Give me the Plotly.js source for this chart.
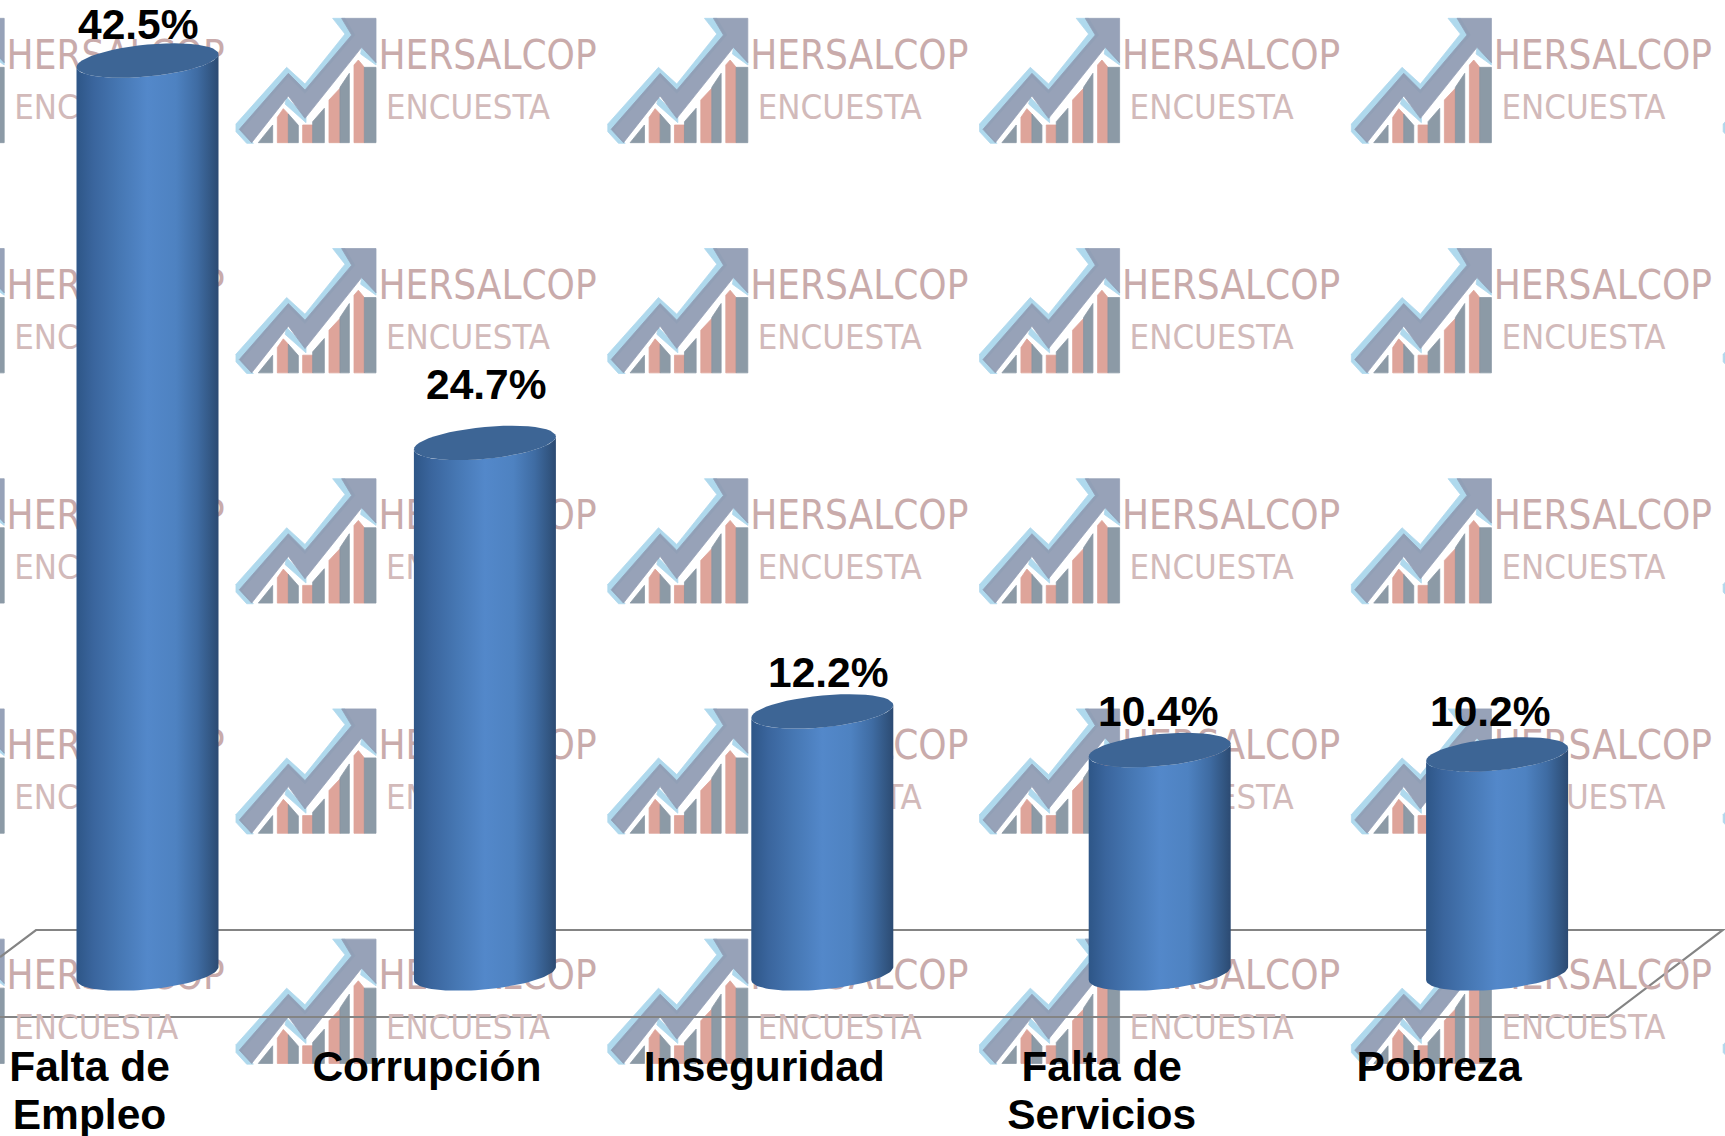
<!DOCTYPE html>
<html lang="es">
<head>
<meta charset="utf-8">
<script src="https://cdn.plot.ly/plotly-3.0.1.min.js"></script>
<style>html,body{margin:0;padding:0;background:#fff;overflow:hidden}#chart{width:1725px;height:1136px}</style>
</head>
<body>
<div id="chart"></div>
<script>
// ---- chart data ----
const categories = ["Falta de<br>Empleo", "Corrupción", "Inseguridad", "Falta de<br>Servicios", "Pobreza"];
const values = [42.5, 24.7, 12.2, 10.4, 10.2];
const valueLabels = ["42.5%", "24.7%", "12.2%", "10.4%", "10.2%"];
const labelShiftX = [-9, 2, 6, -1, -7];
const labelShiftY = [36, 58, 39, 39, 43];
const watermarkTitle = "HERSALCOP";
const watermarkSub = "ENCUESTA";

// ---- geometry ----
const W = 1725, H = 1136, floorFront = 1017;
const x0px = 147.5, pxPerCat = 337.4, y0px = 973.5, pxPerUnit = 21.48;
const dataX = px => (px - x0px) / pxPerCat;
const dataY = py => (y0px - py) / pxPerUnit;
const paperX = px => (px / W).toFixed(5);
const paperY = py => ((H - py) / H).toFixed(5);
const R = 71, B = 16, TILT = 6.5, STEPS = 48;

function arc(cat, val, from, to) {
  const xs = [], ys = [];
  for (let i = 0; i <= STEPS; i++) {
    const t = from + (to - from) * i / STEPS;
    xs.push(cat + R * Math.cos(t) / pxPerCat);
    ys.push(val - (B * Math.sin(t) - TILT * Math.cos(t)) / pxPerUnit);
  }
  return [xs, ys];
}

// ---- watermark tiles ----
const tileStepX = 371.8, tileStepY = 230.2, tileX = 236, tileY = 17;
const z = ([x, y]) => [x / 3 - 6, y / 3 - 7];
const logoPolys = {
  "#a9d6ec": [
    [[18,342],[170,172],[225,222],[345,72],[308,25],[345,25],[375,75],[225,250],[175,200],[35,360]],
    [[395,112],[438,155],[438,165],[392,132]],
    [[170,262],[228,322],[228,338],[165,282]],
    [[18,342],[70,400],[50,400],[18,365]]
  ],
  "#8f9bb2": [
    [[335,25],[438,25],[438,158],[395,112],[225,325],[175,258],[65,398],[28,358],[175,190],[225,240],[365,75]]
  ],
  "#dc9d92": [
    [[142,398],[142,322],[160,296],[175,312],[175,398]],
    [[218,398],[218,345],[248,345],[248,398]],
    [[297,398],[297,270],[330,235],[330,398]],
    [[372,398],[372,165],[385,150],[403,172],[403,398]]
  ],
  "#83929f": [
    [[85,398],[128,345],[128,398]],
    [[175,398],[175,312],[205,346],[205,398]],
    [[248,398],[248,335],[283,295],[283,398]],
    [[330,398],[330,232],[358,190],[358,398]],
    [[403,398],[403,172],[438,172],[438,398]]
  ]
};
const tileCols = [-1, 0, 1, 2, 3, 4], tileRows = [0, 1, 2, 3, 4], textCols = [-1, 0, 1, 2, 3];
const shapes = [];
for (const color in logoPolys) {
  let path = "";
  for (const c of tileCols) for (const r of tileRows) {
    const ox = tileX + c * tileStepX, oy = tileY + r * tileStepY;
    for (const poly of logoPolys[color]) {
      path += poly.map((p, i) => {
        const [rx, ry] = z(p);
        return (i ? "L" : "M") + paperX(ox + rx) + "," + paperY(oy + ry);
      }).join("") + "Z";
    }
  }
  shapes.push({type: "path", xref: "paper", yref: "paper", layer: "below", path,
               fillcolor: color, opacity: 0.92, line: {width: 0.8, color}});
}
// floor of the 3-D chart
const floorPts = [[0,957],[36,930],[1723,930],[1608,floorFront],[0,floorFront]];
shapes.push({type: "path", xref: "paper", yref: "paper", layer: "below",
  path: floorPts.map((p, i) => (i ? "L" : "M") + paperX(p[0]) + "," + paperY(p[1])).join(""),
  line: {color: "#848484", width: 2.2}});

const wmX = [], wmY = [], wmT = [], subX = [], subY = [], subT = [];
for (const c of textCols) for (const r of tileRows) {
  const ox = tileX + c * tileStepX, oy = tileY + r * tileStepY;
  wmX.push(dataX(ox + 251.5)); wmY.push(dataY(oy + 41.5)); wmT.push(watermarkTitle);
  subX.push(dataX(ox + 232)); subY.push(dataY(oy + 93)); subT.push(watermarkSub);
}
const traces = [
  {type: "scatter", mode: "text", x: wmX, y: wmY, text: wmT, cliponaxis: false, hoverinfo: "skip", showlegend: false,
   textposition: "middle center",
   textfont: {family: "Liberation Sans Narrow, DejaVu Sans Condensed, sans-serif", size: 40, color: "#c9abab"}},
  {type: "scatter", mode: "text", x: subX, y: subY, text: subT, cliponaxis: false, hoverinfo: "skip", showlegend: false,
   textposition: "middle center",
   textfont: {family: "Liberation Sans Narrow, DejaVu Sans Condensed, sans-serif", size: 34.5, color: "#d2baba"}}
];

// ---- cylinders ----
const bodyScale = [
  [0, "#2e5687"], [0.12, "#3a659d"], [0.3, "#4677b3"], [0.5, "#5388ca"],
  [0.7, "#4e82c1"], [0.85, "#3f6ca3"], [0.96, "#31547f"], [1, "#2c4a72"]
];
values.forEach((v, i) => {
  const [bx, by] = arc(i, 0, Math.PI, 0);            // bottom front edge, left to right
  const [tx, ty] = arc(i, v, 0, Math.PI);            // top front edge, right to left
  traces.push({
    type: "scatter", mode: "lines", x: bx.concat(tx), y: by.concat(ty),
    fill: "toself", line: {width: 0, color: "rgba(0,0,0,0)"}, hoverinfo: "skip", showlegend: false,
    fillgradient: {type: "horizontal", colorscale: bodyScale},
    cliponaxis: false, name: categories[i]
  });
  const [ex, ey] = arc(i, v, 0, 2 * Math.PI);
  traces.push({
    type: "scatter", mode: "lines", x: ex, y: ey, fill: "toself", fillcolor: "#3d6595",
    line: {width: 0, color: "rgba(0,0,0,0)"}, hoverinfo: "skip", showlegend: false, cliponaxis: false
  });
});

const annotations = values.map((v, i) => ({
  x: i, y: v, xref: "x", yref: "y", text: valueLabels[i], showarrow: false,
  xanchor: "center", yanchor: "middle", xshift: labelShiftX[i], yshift: labelShiftY[i],
  font: {family: "Liberation Sans, Arial, sans-serif", size: 42.5, color: "#000", weight: 700}
}));

const layout = {
  width: W, height: H,
  margin: {l: 0, r: 0, t: 0, b: 0, pad: 0},
  paper_bgcolor: "#ffffff", plot_bgcolor: "rgba(0,0,0,0)",
  showlegend: false,
  xaxis: {
    range: [dataX(0), dataX(W)], showgrid: false, zeroline: false, showline: false, ticks: "",
    anchor: "free", position: (H - floorFront) / H,
    tickmode: "array", tickvals: categories.map((c, i) => i + dataX(89.5)), ticktext: categories,
    ticklabelstandoff: 20,
    tickangle: 0,
    tickfont: {family: "Liberation Sans, Arial, sans-serif", size: 42.5, color: "#000", weight: 700}
  },
  yaxis: {range: [dataY(H), dataY(0)], visible: false, fixedrange: true},
  shapes, annotations
};
Plotly.newPlot("chart", traces, layout, {displayModeBar: false, staticPlot: true}).then(gd => {
  // the reference sets its two-line category labels tighter than Plotly's default leading
  gd.querySelectorAll(".xtick text tspan.line").forEach(t => {
    if (parseFloat(t.getAttribute("dy")) > 0) t.setAttribute("dy", "1.13em");
  });
});
</script>
</body>
</html>
